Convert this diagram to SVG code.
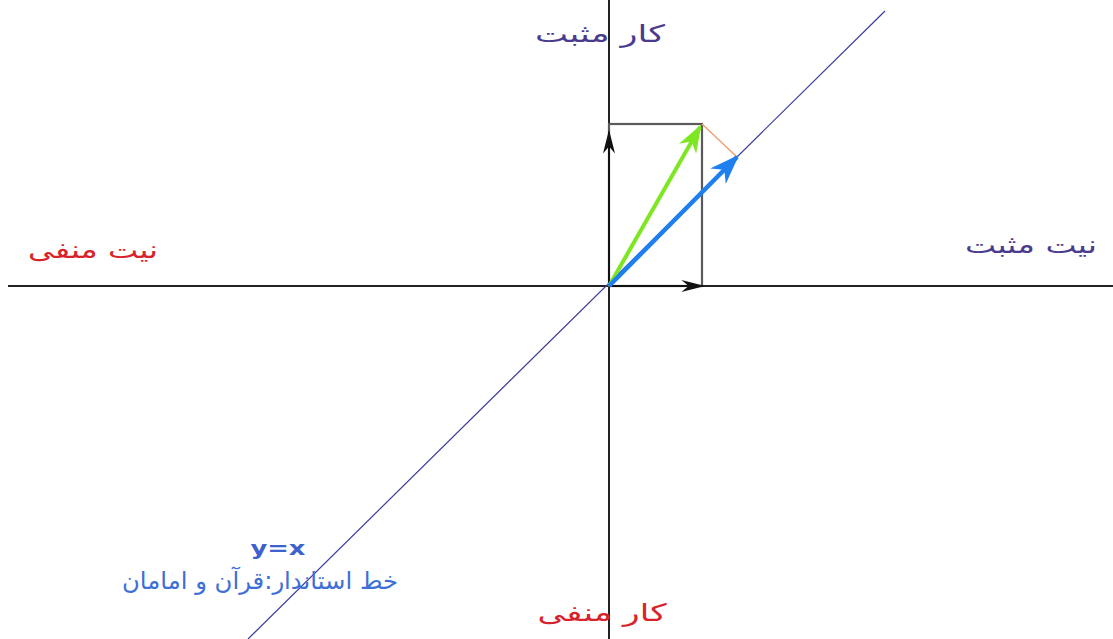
<svg xmlns="http://www.w3.org/2000/svg" width="1113" height="639" viewBox="0 0 1113 639">
<style>
.ax{stroke:#222;stroke-width:2;fill:none}
.lbl{font-family:"DejaVu Sans",sans-serif;font-size:24px;text-anchor:middle}
.red{fill:#d8232a}
.pur{fill:#4a3b8e}
.blu{fill:#3d6fd6}
</style>
<defs>
<marker id="hb" viewBox="0 0 10 10" refX="9" refY="5" markerWidth="24" markerHeight="12" markerUnits="userSpaceOnUse" orient="auto" preserveAspectRatio="none"><path d="M0,0 L10,5 L0,10 L3,5 Z" fill="#111"/></marker>
<marker id="hg" viewBox="0 0 10 10" refX="9" refY="5" markerWidth="28" markerHeight="20" markerUnits="userSpaceOnUse" orient="auto" preserveAspectRatio="none"><path d="M0,0 L10,5 L0,10 L3,5 Z" fill="#7fe622"/></marker>
<marker id="hbl" viewBox="0 0 10 10" refX="9" refY="5" markerWidth="30" markerHeight="22" markerUnits="userSpaceOnUse" orient="auto" preserveAspectRatio="none"><path d="M0,0 L10,5 L0,10 L3,5 Z" fill="#1e80f0"/></marker>
</defs>
<rect width="1113" height="639" fill="#fff"/>
<g id="connectors">
<line class="ax" x1="8" y1="286" x2="1113" y2="286"/>
<line class="ax" x1="609" y1="0" x2="609" y2="639" stroke-width="1.5"/>
<line x1="248" y1="639" x2="885" y2="11" stroke="#3b3b9a" stroke-width="1.2"/>
<rect x="609" y="124" width="93" height="162" fill="none" stroke="#5a5a5a" stroke-width="2.2"/>
<line x1="702" y1="124" x2="737" y2="157" stroke="#f0a070" stroke-width="1.5"/>
<line x1="609" y1="286" x2="609" y2="132" stroke="#111" stroke-width="2" marker-end="url(#hb)"/>
<line x1="609" y1="286" x2="703" y2="286" stroke="#111" stroke-width="2" marker-end="url(#hb)"/>
<line x1="609" y1="286" x2="700" y2="127" stroke="#7fe622" stroke-width="4" marker-end="url(#hg)"/>
<line x1="609" y1="286" x2="737" y2="157" stroke="#1e80f0" stroke-width="4.5" marker-end="url(#hbl)"/>
</g>
<g id="work-positive"><text class="lbl pur" x="600" y="42" textLength="130" lengthAdjust="spacingAndGlyphs">کار مثبت</text></g>
<g id="intent-negative"><text class="lbl red" x="93" y="258" textLength="130" lengthAdjust="spacingAndGlyphs">نیت منفی</text></g>
<g id="intent-positive"><text class="lbl pur" x="1031" y="253" textLength="132" lengthAdjust="spacingAndGlyphs">نیت مثبت</text></g>
<g id="work-negative"><text class="lbl red" x="602" y="621" textLength="129" lengthAdjust="spacingAndGlyphs">کار منفی</text></g>
<g id="standard-line">
<text x="278" y="555" font-family="DejaVu Sans,sans-serif" font-size="20" font-weight="bold" fill="#3d62d0" text-anchor="middle" textLength="55" lengthAdjust="spacingAndGlyphs">y=x</text>
<text class="lbl blu" x="260" y="589" textLength="276" lengthAdjust="spacingAndGlyphs">خط استاندار:قرآن و امامان</text>
</g>
</svg>
